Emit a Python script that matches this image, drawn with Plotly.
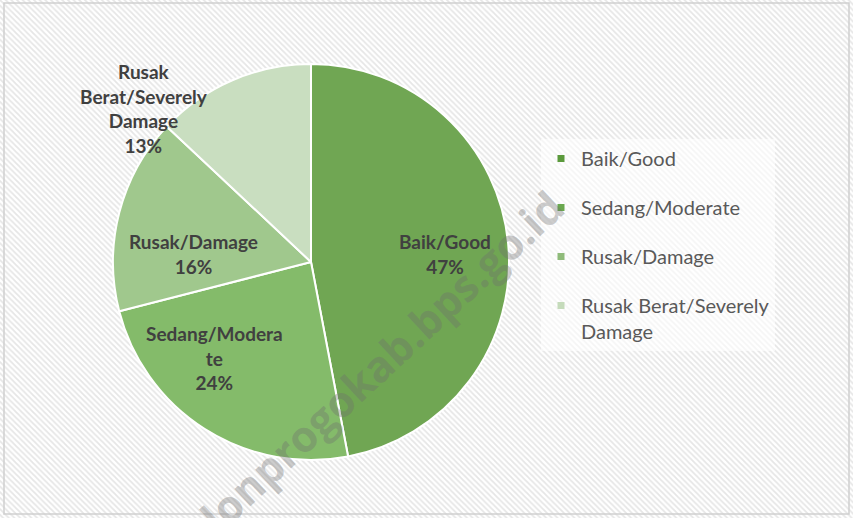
import plotly.graph_objects as go

categories = ["Baik/Good", "Sedang/Moderate", "Rusak/Damage", "Rusak Berat/Severely Damage"]
values = [47, 24, 16, 13]
slice_text = ["Baik/Good<br>47%", "Sedang/Modera<br>te<br>24%", "Rusak/Damage<br>16%",
              "Rusak<br>Berat/Severely<br>Damage<br>13%"]
legend_labels = ["Baik/Good", "Sedang/Moderate", "Rusak/Damage", "Rusak Berat/Severely<br>Damage"]

# styles
slice_colors = ["#70a653", "#84bb6a", "#a0c88d", "#c9dec0"]
legend_colors = ["#5b9a3c", "#6aa84f", "#8fbb7a", "#c5dbbb"]
label_pos_px = [(445, 254), (214, 358), (193, 254), (144, 108)]  # data-label anchors (px)

W, H = 853, 518
fig = go.Figure()

# hatched background
fig.add_trace(go.Scatter(
    x=[0, 1, 1, 0, 0], y=[0, 0, 1, 1, 0], mode="lines", fill="toself",
    line=dict(width=0), fillcolor="rgba(0,0,0,0)",
    fillpattern=dict(shape="\\", size=4, solidity=0.45, fgcolor="#cdcdcd", bgcolor="white"),
    showlegend=False, hoverinfo="skip"))

fig.add_trace(go.Pie(
    labels=categories, values=values, sort=False, direction="clockwise", rotation=0,
    textinfo="none",
    marker=dict(colors=slice_colors, line=dict(color="white", width=2)),
    domain=dict(x=[113 / W, 509 / W], y=[1 - 460 / H, 1 - 64 / H]),
    showlegend=False, hoverinfo="label+percent"))

for i, (lab, col) in enumerate(zip(legend_labels, legend_colors)):
    fig.add_trace(go.Scatter(
        x=[None], y=[None], mode="markers", name=lab, legendgroup=f"g{i}",
        marker=dict(symbol="square", size=7, color=col)))

# data labels
for txt, (px, py) in zip(slice_text, label_pos_px):
    fig.add_annotation(x=px / W, y=1 - py / H, xref="paper", yref="paper",
                       xanchor="center", yanchor="middle",
                       text=txt, showarrow=False,
                       font=dict(family="Lato", size=19, color="#404040", weight="bold"))

# watermark
fig.add_annotation(x=361 / W, y=1 - 380 / H, xref="paper", yref="paper",
                   xanchor="center", yanchor="middle",
                   text="kulonprogokab.bps.go.id", showarrow=False, textangle=-43,
                   font=dict(family="Open Sans", size=43, color="rgba(110,110,110,0.36)", weight="bold"))

fig.add_shape(type="rect", xref="paper", yref="paper", x0=4 / W, x1=849 / W, y0=1 - 514 / H, y1=1 - 3 / H,
              line=dict(color="#d0d0d0", width=1.5))

fig.update_layout(
    width=W, height=H, margin=dict(l=0, r=0, t=0, b=0),
    paper_bgcolor="white", plot_bgcolor="white",
    xaxis=dict(visible=False, range=[0, 1], fixedrange=True),
    yaxis=dict(visible=False, range=[0, 1], fixedrange=True),
    legend=dict(x=541 / W, y=1 - 139 / H, xanchor="left", yanchor="top",
                bgcolor="rgba(255,255,255,0.6)", tracegroupgap=20, valign="top",
                font=dict(family="Lato", size=20, color="#595959"), itemwidth=30),
)

fig.write_html("out.html", config={"displayModeBar": False},
               post_script="document.body.style.margin='0';document.body.style.overflow='hidden';")
